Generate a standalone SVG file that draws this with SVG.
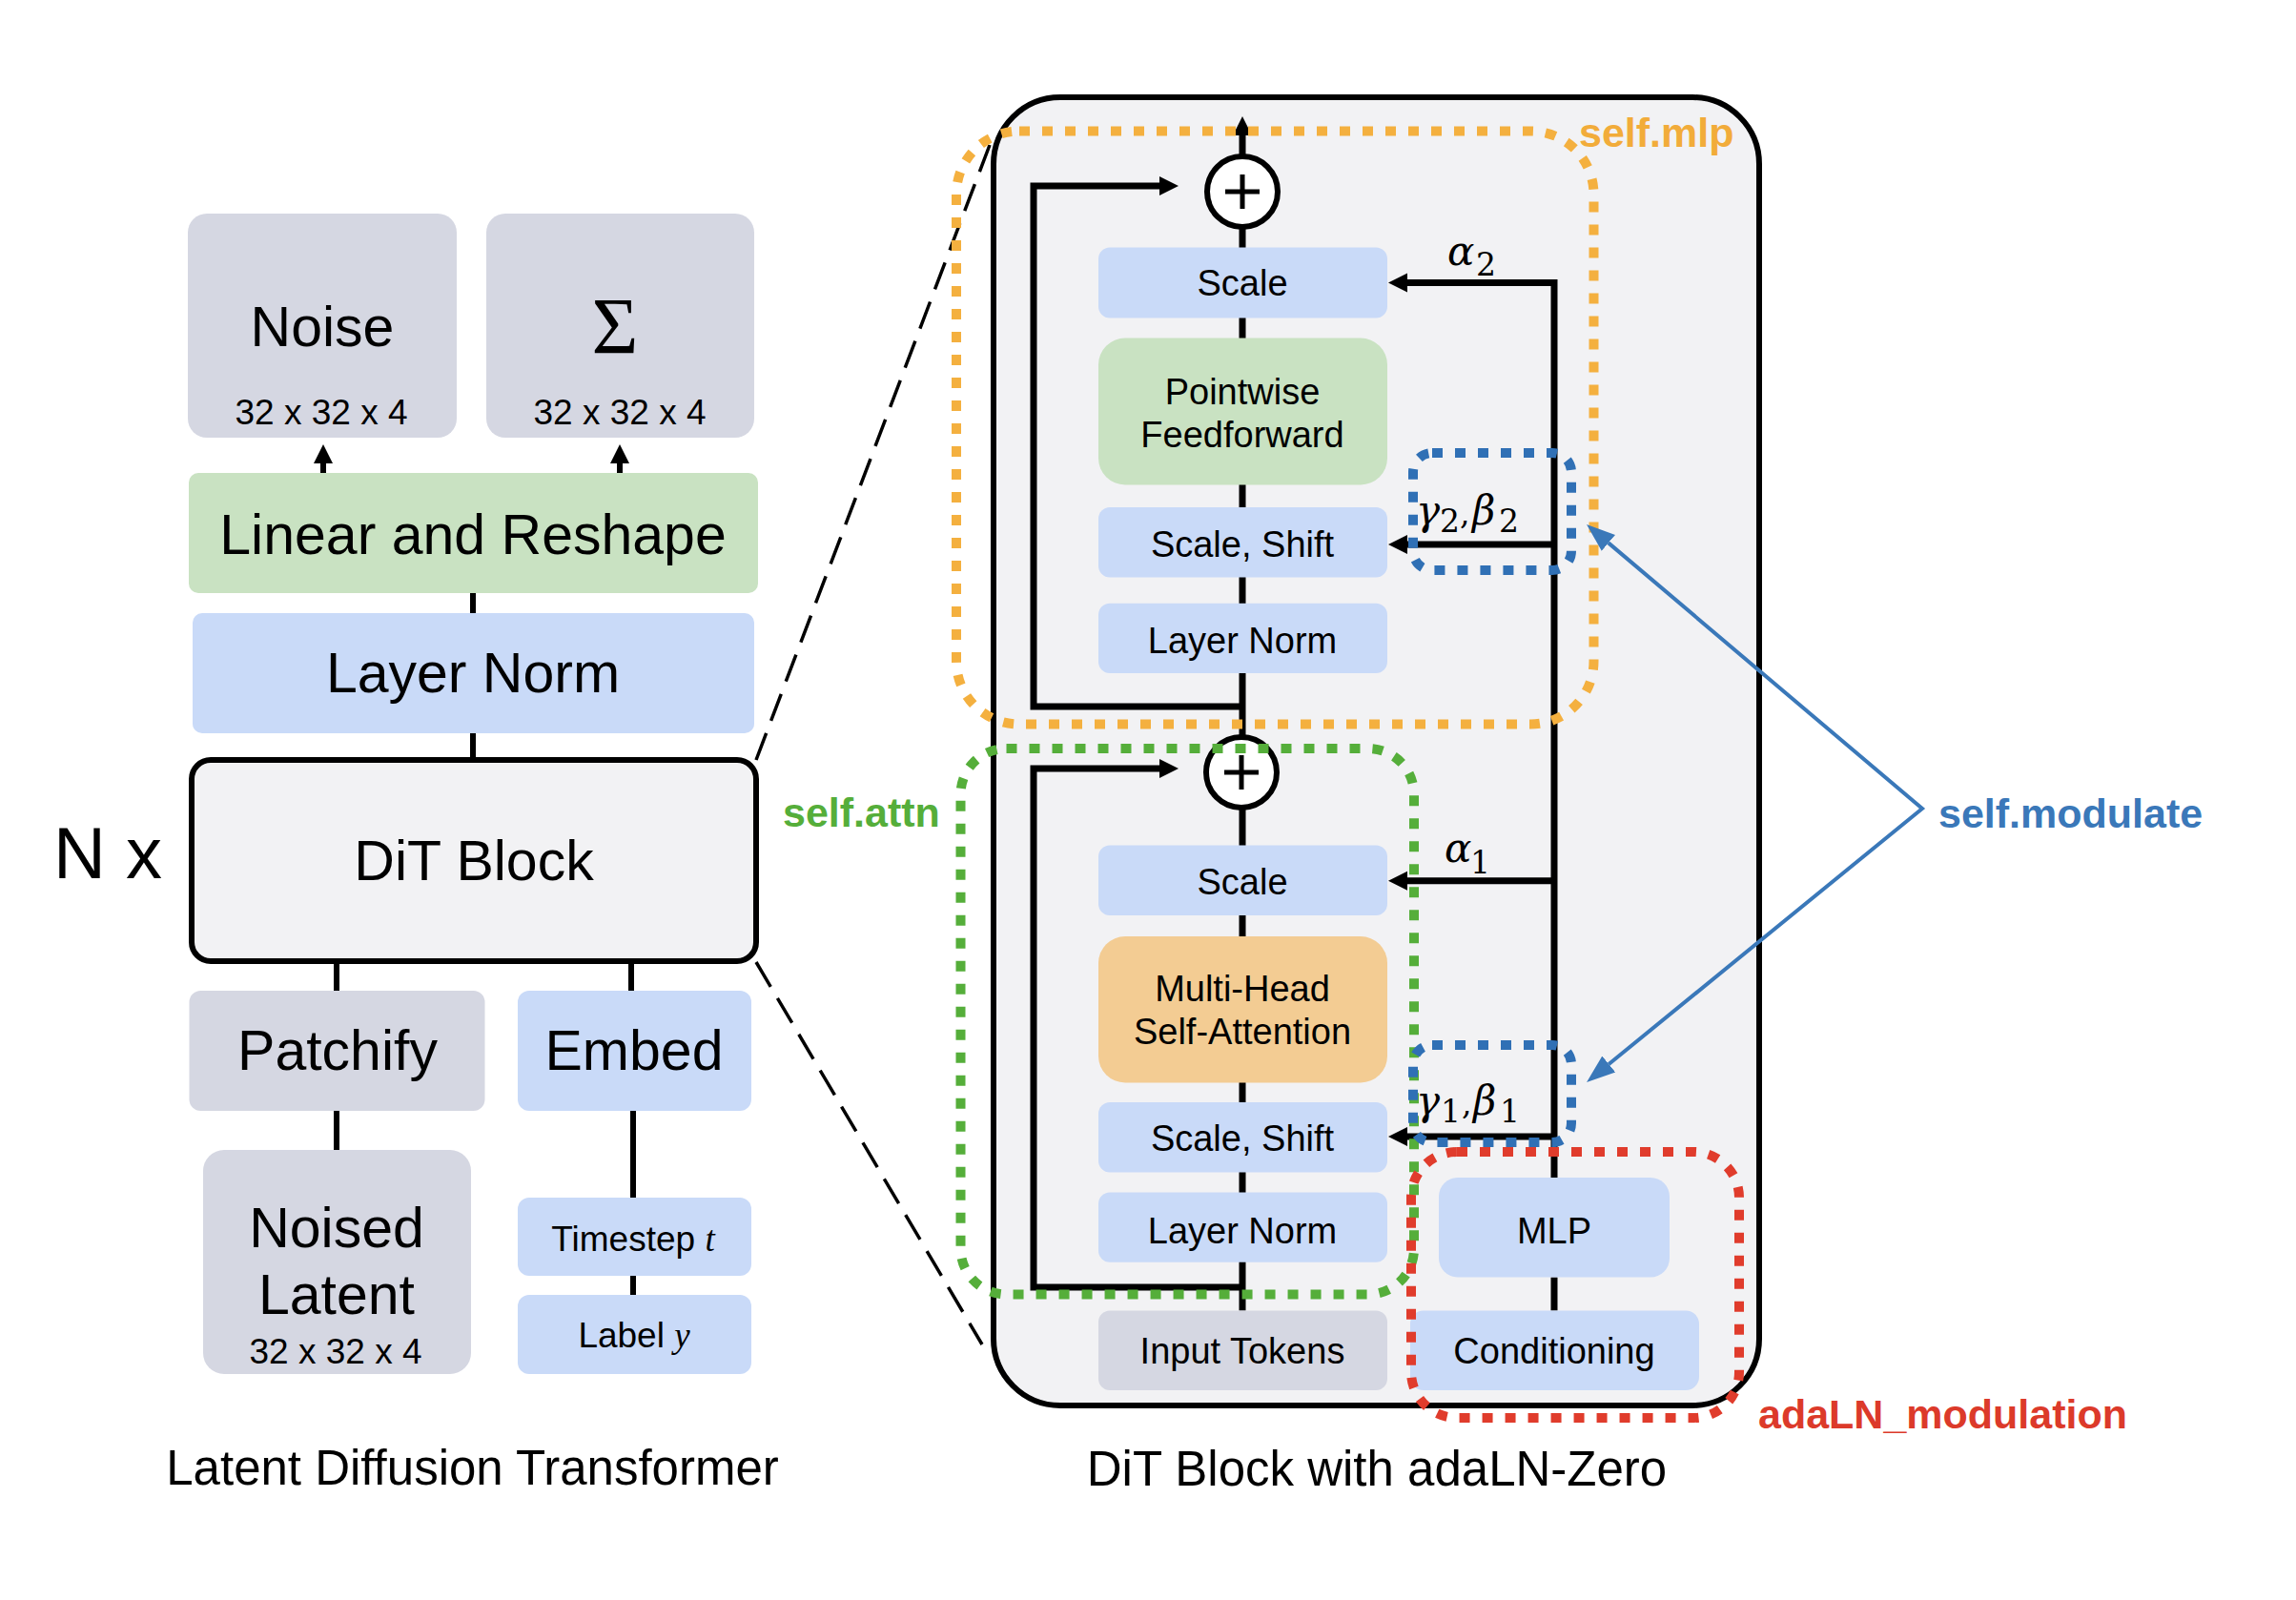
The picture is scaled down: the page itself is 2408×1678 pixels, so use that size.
<svg xmlns="http://www.w3.org/2000/svg" width="2408" height="1678" viewBox="0 0 2408 1678">
<style>
.t{font-family:"Liberation Sans",Arial,Helvetica,sans-serif;fill:#000;text-anchor:middle}
.big{font-size:59px}
.mid{font-size:38px}
.small{font-size:37px}
.title{font-size:51px}
.lab{font-family:"Liberation Sans",Arial,Helvetica,sans-serif;font-weight:bold;font-size:43px}
.m{font-family:"DejaVu Serif","Liberation Serif",serif;font-style:italic;font-size:42px;fill:#000}
.s{font-family:"DejaVu Serif","Liberation Serif",serif;font-style:normal;font-size:33px}
.it{font-family:"Liberation Serif","DejaVu Serif",serif;font-style:italic}
.gray{fill:#d5d7e2}
.blue{fill:#c9daf8}
.green{fill:#c9e2c2}
.orange{fill:#f3cc93}
.ln{fill:none;stroke:#000;stroke-width:6}
.lni{fill:none;stroke:#000;stroke-width:7;stroke-linejoin:miter}
.dash{fill:none;stroke:#000;stroke-width:3.5;stroke-dasharray:30 14}
.dot{fill:none;stroke-width:10;stroke-dasharray:11 13}
</style>
<defs>
<marker id="ah" markerUnits="userSpaceOnUse" markerWidth="20" markerHeight="22" viewBox="0 -11 20 22" refX="0" refY="0" orient="auto">
<path d="M0,-10 L20,0 L0,10 Z" fill="#000"/>
</marker>
<marker id="bh" markerUnits="userSpaceOnUse" markerWidth="30" markerHeight="24" viewBox="0 -12 30 24" refX="0" refY="0" orient="auto">
<path d="M0,-11 L30,0 L0,11 Z" fill="#3a78b9"/>
</marker>
<marker id="bhs" markerUnits="userSpaceOnUse" markerWidth="30" markerHeight="24" viewBox="0 -12 30 24" refX="0" refY="0" orient="auto-start-reverse">
<path d="M0,-11 L30,0 L0,11 Z" fill="#3a78b9"/>
</marker>
</defs>

<rect width="2408" height="1678" fill="#ffffff"/>

<!-- outer DiT block container -->
<g id="dit-block-detail">
<rect x="1042" y="102" width="803" height="1372" rx="70" fill="#f2f2f4" stroke="#000" stroke-width="6"/>
</g>

<g id="connectors">
<!-- zoom dashed lines -->
<line class="dash" x1="793" y1="797" x2="1038" y2="152"/>
<line class="dash" x1="793" y1="1009" x2="1030" y2="1410"/>
<!-- left diagram -->
<line class="ln" x1="339" y1="496" x2="339" y2="486" marker-end="url(#ah)"/>
<line class="ln" x1="650" y1="496" x2="650" y2="486" marker-end="url(#ah)"/>
<line class="ln" x1="496" y1="622" x2="496" y2="643"/>
<line class="ln" x1="496" y1="769" x2="496" y2="797"/>
<line class="ln" x1="353" y1="1008" x2="353" y2="1039"/>
<line class="ln" x1="662" y1="1008" x2="662" y2="1039"/>
<line class="ln" x1="353" y1="1165" x2="353" y2="1206"/>
<line class="ln" x1="664" y1="1165" x2="664" y2="1256"/>
<line class="ln" x1="664" y1="1338" x2="664" y2="1358"/>
<!-- right diagram main path -->
<line class="lni" x1="1303" y1="1374.5" x2="1303" y2="238"/>
<path class="lni" d="M1303,1350 H1084 V806 H1216" marker-end="url(#ah)"/>
<path class="lni" d="M1303,741 H1084 V195 H1216" marker-end="url(#ah)"/>
<line class="lni" x1="1303" y1="164" x2="1303" y2="142" marker-end="url(#ah)"/>
<!-- conditioning path -->
<line class="lni" x1="1630" y1="1374.5" x2="1630" y2="1339.5"/>
<path class="lni" d="M1630,1235 V296.5 H1476" marker-end="url(#ah)"/>
<line class="lni" x1="1630" y1="571" x2="1476" y2="571" marker-end="url(#ah)"/>
<line class="lni" x1="1630" y1="923.7" x2="1476" y2="923.7" marker-end="url(#ah)"/>
<line class="lni" x1="1630" y1="1192" x2="1476" y2="1192" marker-end="url(#ah)"/>
</g>

<!-- left diagram nodes -->
<g id="noise">
<rect class="gray" x="197" y="224" width="282" height="235" rx="20"/>
<text class="t big" x="338" y="363">Noise</text>
<text class="t small" x="337" y="445">32 x 32 x 4</text>
</g>
<g id="sigma">
<rect class="gray" x="510" y="224" width="281" height="235" rx="20"/>
<text x="645" y="371" font-family="'Liberation Serif','DejaVu Serif',serif" font-size="84" text-anchor="middle">Σ</text>
<text class="t small" x="650" y="445">32 x 32 x 4</text>
</g>
<g id="linear-reshape">
<rect class="green" x="198" y="496" width="597" height="126" rx="10"/>
<text class="t big" x="496" y="581" font-size="60">Linear and Reshape</text>
</g>
<g id="layer-norm-final">
<rect class="blue" x="202" y="643" width="589" height="126" rx="10"/>
<text class="t big" x="496" y="726">Layer Norm</text>
</g>
<g id="dit-block">
<rect x="201" y="797" width="592" height="211" rx="20" fill="#f2f2f4" stroke="#000" stroke-width="6"/>
<text class="t big" x="497" y="923">DiT Block</text>
</g>
<text x="56" y="921" font-family="'Liberation Sans',Arial,Helvetica,sans-serif" font-size="76">N x</text>
<g id="patchify">
<rect class="gray" x="198.5" y="1039" width="310" height="126" rx="12"/>
<text class="t big" x="354" y="1122">Patchify</text>
</g>
<g id="embed">
<rect class="blue" x="543" y="1039" width="245" height="126" rx="12"/>
<text class="t big" x="665" y="1122">Embed</text>
</g>
<g id="noised-latent">
<rect class="gray" x="213" y="1206" width="281" height="235" rx="22"/>
<text class="t big" x="353" y="1308">Noised</text>
<text class="t big" x="353" y="1378">Latent</text>
<text class="t small" x="352" y="1430">32 x 32 x 4</text>
</g>
<g id="timestep">
<rect class="blue" x="543" y="1256" width="245" height="82" rx="12"/>
<text class="t small" x="664" y="1312">Timestep <tspan class="it">t</tspan></text>
</g>
<g id="label">
<rect class="blue" x="543" y="1358" width="245" height="83" rx="12"/>
<text class="t small" x="665" y="1413">Label <tspan class="it">y</tspan></text>
</g>
<text class="t title" x="495.5" y="1557">Latent Diffusion Transformer</text>

<!-- right diagram nodes -->
<g id="sum-mlp">
<circle cx="1303" cy="201" r="37" fill="#fff" stroke="#000" stroke-width="6"/>
<path d="M1285,201 H1321 M1303,183 V219" stroke="#000" stroke-width="5"/>
</g>
<g id="scale-mlp">
<rect class="blue" x="1152" y="259.5" width="303" height="74" rx="12"/>
<text class="t mid" x="1303" y="310">Scale</text>
</g>
<g id="pointwise-ff">
<rect class="green" x="1152" y="354.5" width="303" height="154" rx="28"/>
<text class="t mid" x="1303" y="424">Pointwise</text>
<text class="t mid" x="1303" y="469">Feedforward</text>
</g>
<g id="scale-shift-mlp">
<rect class="blue" x="1152" y="532" width="303" height="73.5" rx="12"/>
<text class="t mid" x="1303" y="583.5">Scale, Shift</text>
</g>
<g id="layer-norm-mlp">
<rect class="blue" x="1152" y="632.7" width="303" height="73.3" rx="12"/>
<text class="t mid" x="1303" y="685">Layer Norm</text>
</g>
<g id="sum-attn">
<circle cx="1302" cy="810" r="37" fill="#fff" stroke="#000" stroke-width="6"/>
<path d="M1284,810 H1320 M1302,792 V828" stroke="#000" stroke-width="5"/>
</g>
<g id="scale-attn">
<rect class="blue" x="1152" y="886.6" width="303" height="73.4" rx="12"/>
<text class="t mid" x="1303" y="938">Scale</text>
</g>
<g id="mhsa">
<rect class="orange" x="1152" y="982" width="303" height="153.5" rx="28"/>
<text class="t mid" x="1303" y="1050">Multi-Head</text>
<text class="t mid" x="1303" y="1095">Self-Attention</text>
</g>
<g id="scale-shift-attn">
<rect class="blue" x="1152" y="1156" width="303" height="73.6" rx="12"/>
<text class="t mid" x="1303" y="1207">Scale, Shift</text>
</g>
<g id="layer-norm-attn">
<rect class="blue" x="1152" y="1250.5" width="303" height="73.2" rx="12"/>
<text class="t mid" x="1303" y="1304">Layer Norm</text>
</g>
<g id="input-tokens">
<rect class="gray" x="1152" y="1374.5" width="303" height="83.5" rx="12"/>
<text class="t mid" x="1303" y="1430">Input Tokens</text>
</g>
<g id="mlp">
<rect class="blue" x="1509" y="1235" width="242" height="104.5" rx="20"/>
<text class="t mid" x="1630" y="1304">MLP</text>
</g>
<g id="conditioning">
<rect class="blue" x="1479" y="1374.5" width="303" height="83.5" rx="14"/>
<text class="t mid" x="1630" y="1430">Conditioning</text>
</g>

<!-- math labels -->
<g id="math-labels">
<text class="m" x="1518" y="278">α<tspan class="s" x="1548" y="289">2</tspan></text>
<text class="m" x="1515" y="904">α<tspan class="s" x="1542" y="916">1</tspan></text>
<text class="m" x="1485" y="550">γ<tspan class="s" x="1510" y="558">2</tspan><tspan class="s" x="1531" y="550">,</tspan><tspan x="1544" y="550">β</tspan><tspan class="s" x="1572" y="558">2</tspan></text>
<text class="m" x="1485" y="1169">γ<tspan class="s" x="1511" y="1177">1</tspan><tspan class="s" x="1533" y="1169">,</tspan><tspan x="1545" y="1169">β</tspan><tspan class="s" x="1573" y="1177">1</tspan></text>
</g>

<!-- dotted code regions -->
<g id="self-mlp">
<rect class="dot" x="1003" y="137.5" width="668.5" height="622" rx="66" stroke="#f4b03f"/>
<text class="lab" x="1656" y="154" fill="#f2ac3a">self.mlp</text>
</g>
<g id="self-attn">
<rect class="dot" x="1007.5" y="785" width="475.5" height="572.5" rx="48" stroke="#55ae3a"/>
<text class="lab" x="821" y="867" fill="#55ae3a">self.attn</text>
</g>
<g id="ada-ln-modulation">
<rect class="dot" x="1480" y="1208" width="344" height="279" rx="48" stroke="#e03c2c"/>
<text class="lab" x="1844" y="1498" fill="#dc3a2a">adaLN_modulation</text>
</g>
<g id="self-modulate">
<rect class="dot" x="1482" y="475" width="166" height="123" rx="20" stroke="#3070b5"/>
<rect class="dot" x="1482" y="1096" width="166" height="102" rx="20" stroke="#3070b5"/>
<path d="M1686.9,569.4 L2016,848 L1687.3,1116" fill="none" stroke="#3a78b9" stroke-width="4" stroke-linejoin="miter" marker-start="url(#bhs)" marker-end="url(#bh)"/>
<text class="lab" x="2033" y="868" fill="#3a78b9">self.modulate</text>
</g>

<text class="t title" x="1444" y="1557.5">DiT Block with adaLN-Zero</text>
</svg>
